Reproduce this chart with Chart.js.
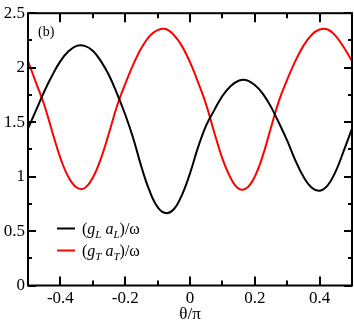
<!DOCTYPE html>
<html>
<head>
<meta charset="utf-8">
<script src="https://cdn.jsdelivr.net/npm/chart.js@4.4.1/dist/chart.umd.min.js"></script>
<style>
  html, body { margin: 0; padding: 0; background: #fff; }
</style>
</head>
<body>
<canvas id="chart" width="354" height="323"></canvas>
<script>
// theta / pi
const theta = [
  -0.5, -0.475, -0.45, -0.425, -0.4, -0.375, -0.35, -0.325, -0.3, -0.275,
  -0.25, -0.225, -0.2, -0.175, -0.15, -0.125, -0.1, -0.075, -0.05, -0.025,
  0, 0.025, 0.05, 0.075, 0.1, 0.125, 0.15, 0.175, 0.2, 0.225,
  0.25, 0.275, 0.3, 0.325, 0.35, 0.375, 0.4, 0.425, 0.45, 0.475, 0.5
];
// (g_L a_L)/omega, black curve
const gLaL = [
  1.44, 1.61, 1.78, 1.93, 2.06, 2.15, 2.20, 2.20, 2.155, 2.06,
  1.93, 1.76, 1.57, 1.35, 1.09, 0.87, 0.72, 0.665, 0.70, 0.83,
  1.03, 1.27, 1.47, 1.61, 1.74, 1.83, 1.88, 1.885, 1.84, 1.76,
  1.64, 1.49, 1.33, 1.15, 1.00, 0.90, 0.87, 0.92, 1.05, 1.24, 1.44
];
// (g_T a_T)/omega, red curve
const gTaT = [
  2.06, 1.86, 1.66, 1.41, 1.17, 0.995, 0.90, 0.895, 0.99, 1.165,
  1.40, 1.65, 1.85, 2.03, 2.18, 2.29, 2.345, 2.355, 2.30, 2.20,
  2.05, 1.865, 1.66, 1.405, 1.165, 0.99, 0.89, 0.895, 1.00, 1.195,
  1.45, 1.70, 1.89, 2.06, 2.20, 2.30, 2.35, 2.35, 2.29, 2.185, 2.06
];

const seriesNames = ["(g_L a_L)/ω", "(g_T a_T)/ω"];
const seriesColors = ["#000000", "#ff0000"];

const xTicks = [-0.4, -0.2, 0, 0.2, 0.4];
const xMinorTicks = [-0.3, -0.1, 0.1, 0.3];
const yTicks = [0, 0.5, 1, 1.5, 2, 2.5];
const yMinorTicks = [0.25, 0.75, 1.25, 1.75, 2.25];
const panelLabel = "(b)";
const xTitle = "θ/π";

const serif = "'Liberation Serif', 'Times New Roman', serif";

function points(ys) {
  return theta.map((t, i) => ({ x: t, y: ys[i] }));
}

function fmt(v) {
  return v === 0 ? "0" : String(v);
}

// "(g_L a_L)/ω" -> normal / italic letter / italic subscript
function drawRich(ctx, text, x, y) {
  const parts = text.split(/([a-z])_([A-Z])/);
  ctx.textBaseline = "alphabetic";
  ctx.textAlign = "left";
  parts.forEach((p, i) => {
    if (i % 3 === 0) ctx.font = "16px " + serif;
    else if (i % 3 === 1) ctx.font = "italic 16px " + serif;
    else ctx.font = "italic 11px " + serif;
    const dy = i % 3 === 2 ? 4 : 0;
    ctx.fillText(p, x, y + dy);
    x += ctx.measureText(p).width;
  });
}

const framePlugin = {
  id: "frame",
  afterDatasetsDraw(chart) {
    const { ctx, chartArea: a, scales: { x, y } } = chart;
    ctx.save();
    ctx.strokeStyle = "#000";
    ctx.lineWidth = 2;
    ctx.strokeRect(a.left, a.top, a.right - a.left, a.bottom - a.top);

    ctx.beginPath();
    const xt = (vals, len) => vals.forEach(v => {
      const px = Math.round(x.getPixelForValue(v));
      ctx.moveTo(px, a.bottom); ctx.lineTo(px, a.bottom - len);
      ctx.moveTo(px, a.top); ctx.lineTo(px, a.top + len);
    });
    const yt = (vals, len) => vals.forEach(v => {
      const py = Math.round(y.getPixelForValue(v));
      ctx.moveTo(a.left, py); ctx.lineTo(a.left + len, py);
      ctx.moveTo(a.right, py); ctx.lineTo(a.right - len, py);
    });
    xt(xTicks, 9);
    xt(xMinorTicks, 5);
    yt(yTicks, 8);
    yt(yMinorTicks, 4);
    ctx.stroke();

    // panel label
    ctx.fillStyle = "#000";
    ctx.font = "14px " + serif;
    ctx.textBaseline = "middle";
    ctx.fillText(panelLabel, a.left + 10, a.top + 19);

    // legend
    seriesNames.forEach((name, i) => {
      const ly = a.bottom - 57 + i * 22;
      ctx.strokeStyle = seriesColors[i];
      ctx.lineWidth = 2;
      ctx.beginPath();
      ctx.moveTo(a.left + 29, ly);
      ctx.lineTo(a.left + 47, ly);
      ctx.stroke();
      ctx.fillStyle = "#000";
      drawRich(ctx, name, a.left + 54, ly + 5);
    });
    ctx.restore();
  }
};

new Chart(document.getElementById("chart"), {
  type: "line",
  data: {
    datasets: [
      {
        label: seriesNames[0],
        data: points(gLaL),
        borderColor: seriesColors[0],
        borderWidth: 2,
        pointRadius: 0,
        tension: 0.4,
      },
      {
        label: seriesNames[1],
        data: points(gTaT),
        borderColor: seriesColors[1],
        borderWidth: 2,
        pointRadius: 0,
        tension: 0.4,
      },
    ],
  },
  options: {
    responsive: false,
    animation: false,
    devicePixelRatio: 1,
    layout: { padding: { top: 8, right: 2, left: 0, bottom: 0 } },
    plugins: { legend: { display: false }, tooltip: { enabled: false } },
    scales: {
      x: {
        type: "linear",
        min: -0.5,
        max: 0.5,
        afterBuildTicks: (s) => { s.ticks = xTicks.map(v => ({ value: v })); },
        afterFit: (s) => { s.height = 37.5; },
        grid: { display: false, drawTicks: false },
        border: { display: false },
        ticks: {
          color: "#000",
          padding: 3,
          maxRotation: 0,
          font: { family: serif, size: 17 },
          callback: (v) => fmt(v),
        },
        title: {
          display: true,
          text: xTitle,
          color: "#000",
          padding: 0,
          font: { family: serif, size: 17, lineHeight: 1 },
        },
      },
      y: {
        min: 0,
        max: 2.5,
        afterBuildTicks: (s) => { s.ticks = yTicks.map(v => ({ value: v })); },
        afterFit: (s) => { s.width = 28; },
        grid: { display: false, drawTicks: false },
        border: { display: false },
        ticks: {
          color: "#000",
          padding: 3,
          font: { family: serif, size: 17 },
          callback: (v) => fmt(v),
        },
      },
    },
  },
  plugins: [framePlugin],
});
</script>
</body>
</html>
